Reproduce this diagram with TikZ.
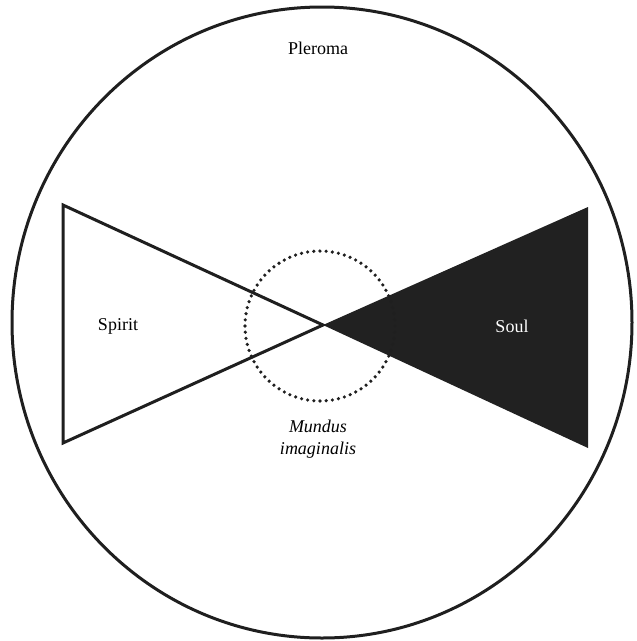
\documentclass[tikz,border=0pt]{standalone}
\usepackage{fontspec}
\setmainfont{Liberation Serif}
\begin{document}
\begin{tikzpicture}[x=1pt,y=-1pt,
  outline/.style={line width=3pt,black!88},
  lbl/.style={font=\fontsize{18}{20}\selectfont,inner sep=0pt},
  dotring/.style={line width=3.6pt,black!88,dash pattern=on 0pt off 6.2pt,line cap=round}]
\useasboundingbox (0,0) rectangle (637,641);
\coordinate (c) at (323,325);
\coordinate (sp1) at (63,205);
\coordinate (sp2) at (63,443);
\coordinate (so1) at (588,207);
\coordinate (so2) at (588,448);
\draw[outline] (322,322.5) ellipse [x radius=310, y radius=315.5];
\fill[black!87] (c) -- (so1) -- (so2) -- cycle;
\draw[outline,line join=miter] (c) -- (sp1) -- (sp2) -- cycle;
\draw[dotring] (320,326) circle [radius=75];
\node[lbl] (pleroma) at (318,48) {Pleroma};
\node[lbl] (spirit) at (118,326) {Spirit};
\node[lbl,text=white] (soul) at (512,326) {Soul};
\node[lbl,align=center,font=\fontsize{18}{22}\selectfont\itshape] (mundus) at (318,439) {Mundus\\imaginalis};
\end{tikzpicture}
\end{document}
